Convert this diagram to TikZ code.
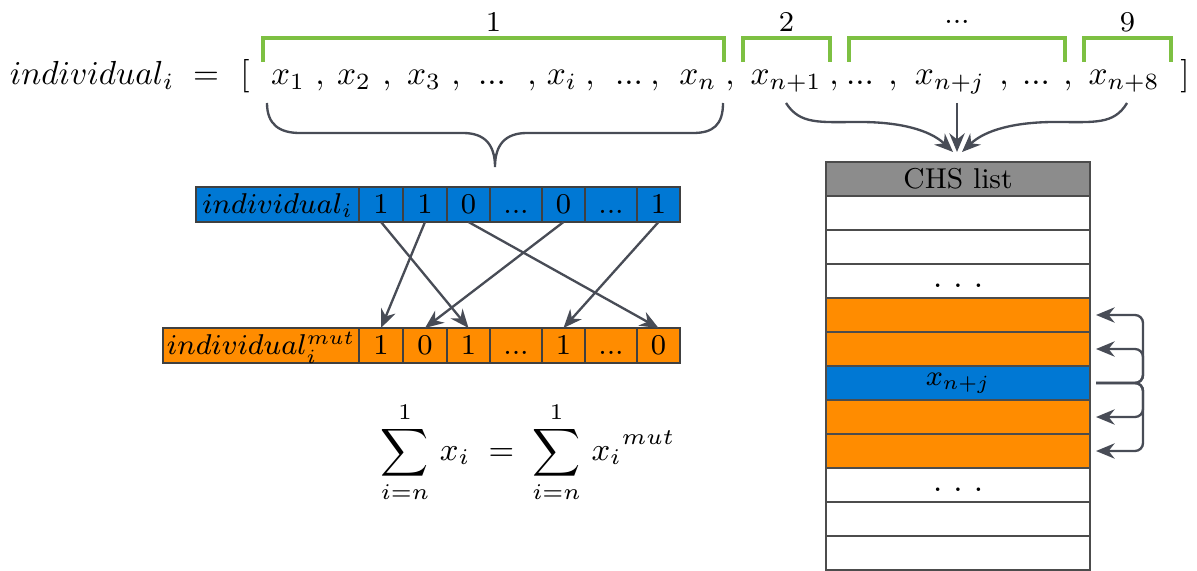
\documentclass[tikz,border=0pt]{standalone}
\usepackage{fix-cm}
\usepackage{tikz}
\usetikzlibrary{arrows.meta,positioning,calc}
\definecolor{cellblue}{RGB}{0,120,212}
\definecolor{cellorange}{RGB}{255,140,0}
\definecolor{headgray}{RGB}{140,140,140}
\definecolor{markgreen}{RGB}{125,192,66}
\definecolor{arrowgray}{RGB}{72,76,86}
\newcommand{\cellfont}{\fontsize{8.6}{10}\selectfont}
\newcommand{\tdots}{{.}{.}{.}}
\tikzset{
  >={Stealth[length=5.6pt,width=4.6pt]},
  tok/.style={anchor=base,inner sep=0pt},
  cell/.style={draw=black!75,line width=0.35pt,inner sep=0pt,outer sep=0pt,
    minimum height=10.5pt,text height=5.6pt,text depth=0pt,font=\cellfont},
  bcell/.style={cell,fill=cellblue},
  ocell/.style={cell,fill=cellorange},
  row/.style={draw=black!70,line width=0.35pt,inner sep=0pt,outer sep=0pt,
    minimum width=79.2pt,minimum height=10.2pt,font=\cellfont},
  link/.style={->,draw=arrowgray,line width=0.7pt},
  bracebar/.style={draw=arrowgray,line width=0.7pt},
  greenbar/.style={draw=markgreen,line width=1.2pt},
  lbl/.style={font=\cellfont,inner sep=1pt}
}

\begin{document}
\begin{tikzpicture}[x=0.3pt,y=-0.3pt]
  \useasboundingbox (0,0) rectangle (1197,571);
  % the chromosome written out
  \node[tok] (ind) at (92,85) {$individual_i$};
  \node[tok] (eq) at (206,85) {$=$};
  \node[tok] (lb) at (245,85) {$[$};
  \node[tok] (rb) at (1185,85) {$]$};
  \foreach \px/\tk/\nm in {288/x_1/x1, 320/{,}/c1, 354/x_2/x2, 387/{,}/c2,
      424/x_3/x3, 456/{,}/c3, 492/\tdots/d1, 532/{,}/c4, 562/x_i/xi,
      590/{,}/c5, 629/\tdots/d2, 655/{,}/c6, 698/x_n/xn, 730/{,}/c7,
      786/x_{n+1}/xn1, 834/{,}/c8, 860/\tdots/d3, 893/{,}/c9,
      950/x_{n+j}/xnj, 1004/{,}/c10, 1036/\tdots/d4, 1068/{,}/c11,
      1124/x_{n+8}/xn8}
    \node[tok] (\nm) at (\px,85) {$\tk$};
  % green groups
  \foreach \a/\b/\t/\n in {263/724/1/g1, 743/830/2/g2, 849/1065/\tdots/g3, 1084/1171/9/g4}{
    \draw[greenbar] (\a,62) -- (\a,38) -- (\b,38) -- (\b,62);
    \node[lbl] (\n) at ({(\a+\b)/2},22) {$\t$};
  }
  % brace under the first group
  \draw[bracebar] (267,103) .. controls (267,125) and (280,133) .. (300,133) -- (463,133)
    .. controls (485,133) and (495,145) .. (495,167)
    .. controls (495,145) and (505,133) .. (527,133) -- (693,133)
    .. controls (713,133) and (723,125) .. (723,103);

  % binary part and its mutation
  \node[bcell,minimum width=48.9pt] (b0) at (277.5,204.5) {$individual_i$};
  \foreach \v/\w [count=\k,remember=\k as \j (initially 0)] in
      {1/13.2,1/13.2,0/12.9,\tdots/15.6,0/12.9,\tdots/15.6,1/12.9}
    \node[bcell,minimum width=\w pt,right=0pt of b\j] (b\k) {$\v$};
  \node[ocell,minimum width=58.8pt] (o0) at (261,345.5) {$individual_i^{mut}$};
  \foreach \v/\w [count=\k,remember=\k as \j (initially 0)] in
      {1/13.2,0/13.2,1/12.9,\tdots/15.6,1/12.9,\tdots/15.6,0/12.9}
    \node[ocell,minimum width=\w pt,right=0pt of o\j] (o\k) {$\v$};
  \foreach \s/\t in {1/3,2/1,3/7,5/2,7/5}
    \draw[link] (b\s.south) -- (o\t.north);

  \node[font=\fontsize{9.6}{11}\selectfont] (sum) at (528,452)
    {$\displaystyle\sum_{i=n}^{1}\, x_i \;=\; \sum_{i=n}^{1}\, {x_i}^{mut}$};

  % CHS list
  \foreach \f/\t [count=\k from 0] in {headgray/CHS list, white/, white/, white/,
      cellorange/, cellorange/, cellblue/$x_{n+j}$, cellorange/, cellorange/,
      white/, white/, white/}
    \node[row,fill=\f] (r\k) at (958,179+34*\k) {\t};
  \node (dots1) at ($(r3.center)+(0,5)$) {.\ .\ .};
  \node (dots2) at ($(r9.center)+(0,5)$) {.\ .\ .};

  \coordinate (s1) at ($(xn1.base)+(0,18)$);
  \coordinate (s2) at ($(xnj.base)+(7,18)$);
  \coordinate (s3) at ($(xn8.base)+(3,18)$);
  \draw[link] (s1) .. controls (800,125) and (820,122) .. (860,122)
    .. controls (900,122) and (930,130) .. ($(r0.north)+(-5,-10)$);
  \draw[link] (s2) -- ($(r0.north)+(-1,-10)$);
  \draw[link] (s3) .. controls (1114,125) and (1094,122) .. (1055,122)
    .. controls (1015,122) and (985,130) .. ($(r0.north)+(4,-10)$);

  % neighbours of the selected entry
  \coordinate (jout) at ($(r6.east)+(6,0)$);
  \coordinate (jbend) at (1143,383);
  \foreach \r in {4,5,7,8}
    \draw[link,rounded corners=2.4pt] (jout) -- (jbend) |- ($(r\r.east)+(6,0)$);
\end{tikzpicture}
\end{document}
